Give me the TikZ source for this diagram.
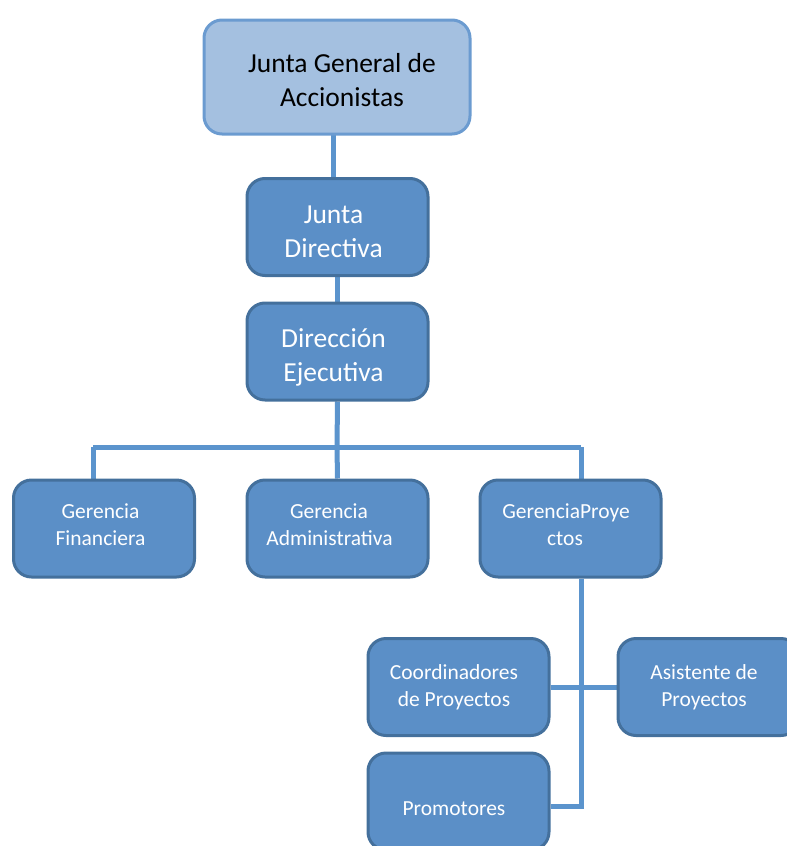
\documentclass[tikz,border=0pt]{standalone}
\usepackage{fontspec}
\setmainfont{Carlito}
\usetikzlibrary{backgrounds}
\definecolor{boxfill}{HTML}{5B8FC7}
\definecolor{boxdraw}{HTML}{44709C}
\definecolor{topfill}{HTML}{A4C0E0}
\definecolor{topdraw}{HTML}{6B9BD0}
\definecolor{linkc}{HTML}{5B94CD}
\newcommand\padr[2]{#2\hbox to #1pt{}}
\newcommand\padl[2]{\hbox to #1pt{}#2}
\tikzset{
  orgbox/.style={draw=boxdraw, fill=boxfill, line width=3pt, rounded corners=18pt,
    minimum width=181pt, minimum height=97pt, text=white, align=center,
    inner sep=0pt, font=\fontsize{27.5}{34}\selectfont},
  smallbox/.style={orgbox, font=\fontsize{21.5}{27}\selectfont},
  topbox/.style={orgbox, draw=topdraw, fill=topfill, text=black,
    minimum width=266pt, minimum height=114pt},
  link/.style={draw=linkc, line width=5pt}
}
\begin{document}
\begin{tikzpicture}[x=1pt,y=1pt]
\useasboundingbox (0,0) rectangle (787,-846);
\clip (0,0) rectangle (787,-846);
\coordinate (hl) at (93,-447);
\coordinate (hm) at (337,-447);
\coordinate (hr) at (581,-447);
\coordinate (pb) at (581,-806);
\node[topbox] (jga) at (337,-77) {\\[-8pt]\padl{10}{Junta General de}\\\padl{10}{Accionistas}};
\node[orgbox] (jd) at (337.5,-227) {\\[-6pt]\padr{8}{Junta}\\\padr{8}{Directiva}};
\node[orgbox] (de) at (337.5,-351.5) {\\[-4pt]\padr{8}{Dirección}\\\padr{8}{Ejecutiva}};
\node[smallbox] (gf) at (104,-528.5) {\padr{7}{Gerencia}\\\padr{7}{Financiera}\\[-19pt]};
\node[smallbox] (ga) at (337.5,-528.5) {\padr{17}{Gerencia}\\\padr{16}{Administrativa}\\[-19pt]};
\node[smallbox] (gp) at (570.5,-528.5) {\padr{9}{GerenciaProye}\\\padr{11}{ctos}\\[-19pt]};
\node[smallbox] (cp) at (458.5,-687) {\padr{9}{Coordinadores}\\\padr{9}{de Proyectos}};
\node[smallbox] (ap) at (708.5,-687) {\padr{9}{Asistente de}\\\padr{9}{Proyectos}};
\node[smallbox] (pr) at (458.5,-801.5) {\\[2pt]\padr{9}{Promotores}};
\begin{scope}[on background layer]
\draw[link] (333,-134) -- (333,-179);
\draw[link] (jd.south) -- (de.north);
\draw[link] (de.south) -- (hm) -- (ga.north);
\draw[link] (hl) -- (hr);
\draw[link] (hl) -- (hl |- gf.north);
\draw[link] (hr) -- (hr |- gp.north);
\draw[link] (hr |- gp.south) -- (pb) -- (pr.east |- pb);
\draw[link] (cp.east) -- (ap.west);
\end{scope}
\end{tikzpicture}
\end{document}
